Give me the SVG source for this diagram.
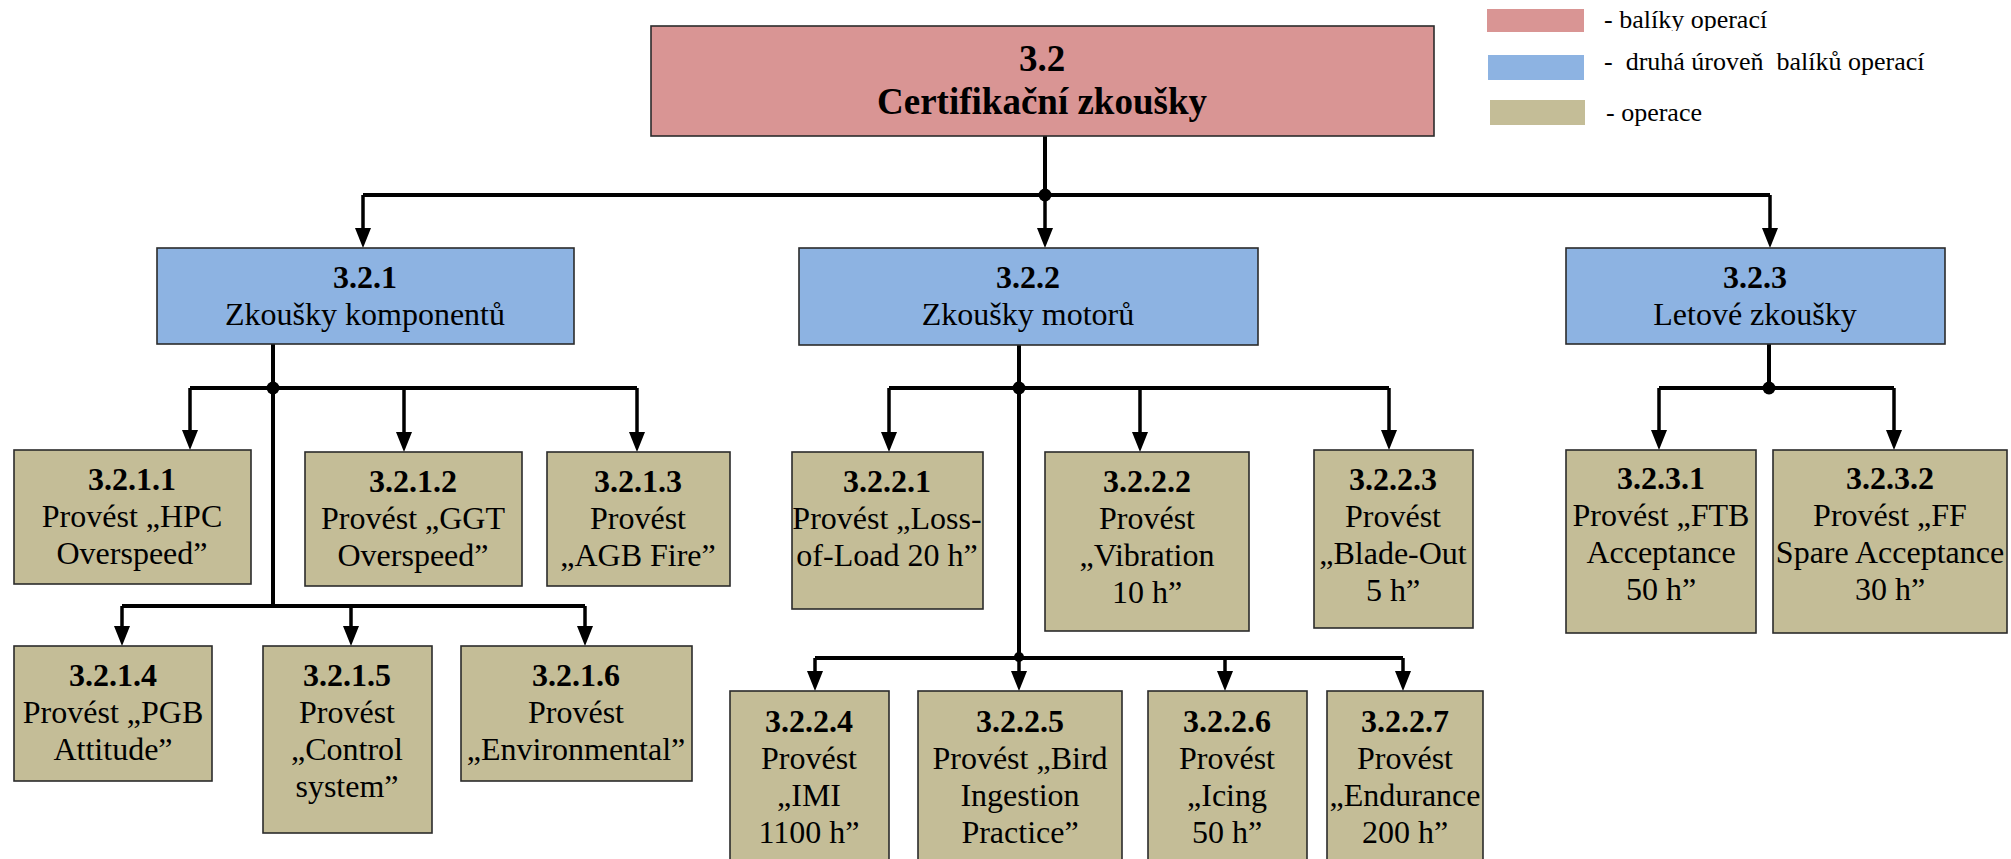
<svg xmlns="http://www.w3.org/2000/svg" width="2011" height="859" viewBox="0 0 2011 859">
  <defs>
    <style>
      .t { font-family: "Liberation Serif", "Times New Roman", serif; fill: #000; text-anchor: middle; }
      .n { font-size: 32px; }
      .b { font-weight: bold; }
      .root { font-size: 37px; font-weight: bold; }
      .lg { font-family: "Liberation Serif", "Times New Roman", serif; font-size: 26px; fill: #000; }
      .box { stroke: #2b2b2b; stroke-width: 1.6; }
      .pkg { fill: #D99594; }
      .lvl2 { fill: #8DB3E2; }
      .op { fill: #C4BD97; }
      .wire { fill: none; stroke: #000; stroke-width: 4; }
      .arr { fill: none; stroke: #000; stroke-width: 3.5; marker-end: url(#head); }
    </style>
    <marker id="head" markerUnits="userSpaceOnUse" viewBox="0 0 20 16" markerWidth="20" markerHeight="16" refX="9" refY="8" orient="auto">
      <path d="M0,0 L20,8 L0,16 z" fill="#000"/>
    </marker>
    <clipPath id="legendClip">
      <rect x="1590" y="0" width="300" height="31"/>
    </clipPath>
  </defs>

  <rect width="2011" height="859" fill="#fff"/>

  <!-- legend -->
  <g id="legend">
    <rect x="1487" y="9" width="97" height="23" class="pkg"/>
    <rect x="1488" y="55" width="96" height="25" class="lvl2"/>
    <rect x="1490" y="100" width="95" height="25" class="op"/>
    <text x="1604" y="28" class="lg" clip-path="url(#legendClip)">- balíky operací</text>
    <text x="1604" y="70" class="lg" xml:space="preserve">-  druhá úroveň  balíků operací</text>
    <text x="1606" y="121" class="lg">- operace</text>
  </g>

  <!-- connectors -->
  <g id="connectors">
    <!-- root to level 2 -->
    <path class="wire" d="M1045,136 V195 M363,195 H1770"/>
    <path class="arr" d="M363,195 V237"/>
    <path class="arr" d="M1045,195 V237"/>
    <path class="arr" d="M1770,195 V237"/>
    <circle cx="1045" cy="195" r="6.5"/>

    <!-- 3.2.1 -->
    <path class="wire" d="M273,344 V606 M190,388 H637 M122,606 H585"/>
    <path class="arr" d="M190,388 V439"/>
    <path class="arr" d="M404,388 V441"/>
    <path class="arr" d="M637,388 V441"/>
    <path class="arr" d="M122,606 V635"/>
    <path class="arr" d="M351,606 V635"/>
    <path class="arr" d="M585,606 V635"/>
    <circle cx="273" cy="388" r="6.5"/>

    <!-- 3.2.2 -->
    <path class="wire" d="M1019,345 V658 M889,388 H1389 M815,658 H1403"/>
    <path class="arr" d="M889,388 V441"/>
    <path class="arr" d="M1140,388 V441"/>
    <path class="arr" d="M1389,388 V439"/>
    <path class="arr" d="M815,658 V680"/>
    <path class="arr" d="M1019,658 V680"/>
    <path class="arr" d="M1225,658 V680"/>
    <path class="arr" d="M1403,658 V680"/>
    <circle cx="1019" cy="388" r="6.5"/>
    <circle cx="1019" cy="657" r="5"/>

    <!-- 3.2.3 -->
    <path class="wire" d="M1769,344 V388 M1659,388 H1894"/>
    <path class="arr" d="M1659,388 V439"/>
    <path class="arr" d="M1894,388 V439"/>
    <circle cx="1769" cy="388" r="6.5"/>
  </g>

  <!-- root -->
  <g id="n3-2">
    <rect x="651" y="26" width="783" height="110" class="box pkg"/>
    <text x="1042" y="71" class="t root">3.2</text>
    <text x="1042" y="114" class="t root">Certifikační zkoušky</text>
  </g>

  <!-- level 2 -->
  <g id="n3-2-1">
    <rect x="157" y="248" width="417" height="96" class="box lvl2"/>
    <text x="365" y="288" class="t n b">3.2.1</text>
    <text x="365" y="325" class="t n">Zkoušky komponentů</text>
  </g>
  <g id="n3-2-2">
    <rect x="799" y="248" width="459" height="97" class="box lvl2"/>
    <text x="1028" y="288" class="t n b">3.2.2</text>
    <text x="1028" y="325" class="t n">Zkoušky motorů</text>
  </g>
  <g id="n3-2-3">
    <rect x="1566" y="248" width="379" height="96" class="box lvl2"/>
    <text x="1755" y="288" class="t n b">3.2.3</text>
    <text x="1755" y="325" class="t n">Letové zkoušky</text>
  </g>

  <!-- 3.2.1 operations -->
  <g id="n3-2-1-1">
    <rect x="14" y="450" width="237" height="134" class="box op"/>
    <text x="132" y="490" class="t n b">3.2.1.1</text>
    <text x="132" y="527" class="t n">Provést „HPC</text>
    <text x="132" y="564" class="t n">Overspeed”</text>
  </g>
  <g id="n3-2-1-2">
    <rect x="305" y="452" width="217" height="134" class="box op"/>
    <text x="413" y="492" class="t n b">3.2.1.2</text>
    <text x="413" y="529" class="t n">Provést „GGT</text>
    <text x="413" y="566" class="t n">Overspeed”</text>
  </g>
  <g id="n3-2-1-3">
    <rect x="547" y="452" width="183" height="134" class="box op"/>
    <text x="638" y="492" class="t n b">3.2.1.3</text>
    <text x="638" y="529" class="t n">Provést</text>
    <text x="638" y="566" class="t n">„AGB Fire”</text>
  </g>
  <g id="n3-2-1-4">
    <rect x="14" y="646" width="198" height="135" class="box op"/>
    <text x="113" y="686" class="t n b">3.2.1.4</text>
    <text x="113" y="723" class="t n">Provést „PGB</text>
    <text x="113" y="760" class="t n">Attitude”</text>
  </g>
  <g id="n3-2-1-5">
    <rect x="263" y="646" width="169" height="187" class="box op"/>
    <text x="347" y="686" class="t n b">3.2.1.5</text>
    <text x="347" y="723" class="t n">Provést</text>
    <text x="347" y="760" class="t n">„Control</text>
    <text x="347" y="797" class="t n">system”</text>
  </g>
  <g id="n3-2-1-6">
    <rect x="461" y="646" width="231" height="135" class="box op"/>
    <text x="576" y="686" class="t n b">3.2.1.6</text>
    <text x="576" y="723" class="t n">Provést</text>
    <text x="576" y="760" class="t n">„Environmental”</text>
  </g>

  <!-- 3.2.2 operations -->
  <g id="n3-2-2-1">
    <rect x="792" y="452" width="191" height="157" class="box op"/>
    <text x="887" y="492" class="t n b">3.2.2.1</text>
    <text x="887" y="529" class="t n">Provést „Loss-</text>
    <text x="887" y="566" class="t n">of-Load 20 h”</text>
  </g>
  <g id="n3-2-2-2">
    <rect x="1045" y="452" width="204" height="179" class="box op"/>
    <text x="1147" y="492" class="t n b">3.2.2.2</text>
    <text x="1147" y="529" class="t n">Provést</text>
    <text x="1147" y="566" class="t n">„Vibration</text>
    <text x="1147" y="603" class="t n">10 h”</text>
  </g>
  <g id="n3-2-2-3">
    <rect x="1314" y="450" width="159" height="178" class="box op"/>
    <text x="1393" y="490" class="t n b">3.2.2.3</text>
    <text x="1393" y="527" class="t n">Provést</text>
    <text x="1393" y="564" class="t n">„Blade-Out</text>
    <text x="1393" y="601" class="t n">5 h”</text>
  </g>
  <g id="n3-2-2-4">
    <rect x="730" y="691" width="159" height="190" class="box op"/>
    <text x="809" y="732" class="t n b">3.2.2.4</text>
    <text x="809" y="769" class="t n">Provést</text>
    <text x="809" y="806" class="t n">„IMI</text>
    <text x="809" y="843" class="t n">1100 h”</text>
  </g>
  <g id="n3-2-2-5">
    <rect x="918" y="691" width="204" height="190" class="box op"/>
    <text x="1020" y="732" class="t n b">3.2.2.5</text>
    <text x="1020" y="769" class="t n">Provést „Bird</text>
    <text x="1020" y="806" class="t n">Ingestion</text>
    <text x="1020" y="843" class="t n">Practice”</text>
  </g>
  <g id="n3-2-2-6">
    <rect x="1148" y="691" width="159" height="190" class="box op"/>
    <text x="1227" y="732" class="t n b">3.2.2.6</text>
    <text x="1227" y="769" class="t n">Provést</text>
    <text x="1227" y="806" class="t n">„Icing</text>
    <text x="1227" y="843" class="t n">50 h”</text>
  </g>
  <g id="n3-2-2-7">
    <rect x="1327" y="691" width="156" height="190" class="box op"/>
    <text x="1405" y="732" class="t n b">3.2.2.7</text>
    <text x="1405" y="769" class="t n">Provést</text>
    <text x="1405" y="806" class="t n">„Endurance</text>
    <text x="1405" y="843" class="t n">200 h”</text>
  </g>

  <!-- 3.2.3 operations -->
  <g id="n3-2-3-1">
    <rect x="1566" y="450" width="190" height="183" class="box op"/>
    <text x="1661" y="489" class="t n b">3.2.3.1</text>
    <text x="1661" y="526" class="t n">Provést „FTB</text>
    <text x="1661" y="563" class="t n">Acceptance</text>
    <text x="1661" y="600" class="t n">50 h”</text>
  </g>
  <g id="n3-2-3-2">
    <rect x="1773" y="450" width="234" height="183" class="box op"/>
    <text x="1890" y="489" class="t n b">3.2.3.2</text>
    <text x="1890" y="526" class="t n">Provést „FF</text>
    <text x="1890" y="563" class="t n">Spare Acceptance</text>
    <text x="1890" y="600" class="t n">30 h”</text>
  </g>
</svg>
